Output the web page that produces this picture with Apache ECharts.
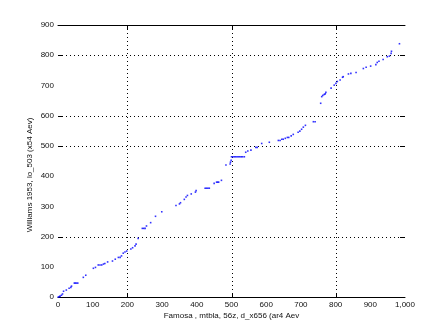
<!DOCTYPE html>
<html>
<head>
<meta charset="utf-8">
<script src="https://cdn.jsdelivr.net/npm/echarts@6/dist/echarts.min.js"></script>
<style>html,body{margin:0;padding:0;background:#fff;}#c{width:447px;height:335px;}</style>
</head>
<body>
<div id="c"></div>
<script>
var xTitle = "Famosa , mtbla, 56z, d_x656 (ar4 Aev";
var yTitle = "Williams 1953, lo_503 (x54 Aev)";
var xTicks = [0,100,200,300,400,500,600,700,800,900,1000];
var yTicks = [0,100,200,300,400,500,600,700,800,900];
var gridX = [200,500,800];
var gridY = [200,500,600,800];
var xVals = [1,4,6,10,13,16,24,32,37,39,47,50,53,57,73,80,102,108,116,121,126,131,135,143,157,165,174,179,183,188,193,198,210,215,222,225,231,243,247,251,255,267,281,299,340,350,353,364,369,373,384,396,398,424,428,432,436,450,457,460,463,471,484,496,497,499,500,504,508,512,516,520,524,528,532,537,541,547,556,570,574,587,609,635,640,645,649,655,661,665,672,678,692,697,702,707,713,736,741,757,760,763,767,770,772,787,796,801,805,813,820,822,837,844,859,880,888,901,916,920,925,937,949,955,960,961,984];
var yVals = [0,1,3,6,10,19,23,29,32,36,46,46,46,46,65,72,95,98,106,106,106,109,111,116,119,125,131,131,136,145,149,152,159,163,169,175,194,227,227,227,235,246,267,282,303,308,312,323,331,336,341,347,352,360,360,360,360,376,380,380,380,386,437,440,446,452,464,464,464,464,464,464,464,464,464,464,479,483,486,495,495,508,512,518,518,522,522,525,528,528,533,538,545,549,555,562,568,580,580,641,663,667,670,672,677,691,701,707,713,718,727,729,738,740,743,756,760,764,769,776,780,786,795,797,806,813,838];

var pts = xVals.map(function(x,i){return [x,yVals[i]];});
var chart = echarts.init(document.getElementById('c'), null, {renderer:'canvas'});
var font = 'Liberation Sans, Arial, sans-serif';

function snap(v){return Math.round(v)+0.5;}

function vGrid(params, api){
  var cs = params.coordSys;
  var x = snap(api.coord([api.value(0),0])[0]);
  var top = cs.y, bot = cs.y + cs.height;
  return {type:'group', children:[
    {type:'line', shape:{x1:x,y1:top,x2:x,y2:bot}, style:{stroke:'#000',lineWidth:1,lineDash:[1,3]}},
    {type:'line', shape:{x1:x,y1:top,x2:x,y2:top+4}, style:{stroke:'#000',lineWidth:1}},
    {type:'line', shape:{x1:x,y1:bot-4,x2:x,y2:bot}, style:{stroke:'#000',lineWidth:1}}
  ]};
}
function hGrid(params, api){
  var cs = params.coordSys;
  var y = snap(api.coord([0,api.value(1)])[1]);
  var l = cs.x, r = cs.x + cs.width;
  return {type:'group', children:[
    {type:'line', shape:{x1:l,y1:y,x2:r,y2:y}, style:{stroke:'#000',lineWidth:1,lineDash:[1,3]}},
    {type:'line', shape:{x1:l,y1:y,x2:l+5,y2:y}, style:{stroke:'#000',lineWidth:1}},
    {type:'line', shape:{x1:r-5,y1:y,x2:r,y2:y}, style:{stroke:'#000',lineWidth:1}}
  ]};
}

chart.setOption({
  animation:false,
  backgroundColor:'#fff',
  grid:{left:58,right:42,top:25,bottom:38,containLabel:false},
  xAxis:[{
    type:'value', min:0, max:1000, interval:100,
    axisLine:{show:true,lineStyle:{color:'#000',width:1}},
    axisTick:{show:false}, splitLine:{show:false},
    axisLabel:{fontSize:8,color:'#111',margin:4,fontFamily:font},
    name:xTitle, nameLocation:'middle', nameGap:15, nameMoveOverlap:false,
    nameTextStyle:{fontSize:8,color:'#111',fontFamily:font}
  },{
    type:'value', min:0, max:1000, position:'top',
    axisLine:{show:true,lineStyle:{color:'#000',width:1}},
    axisTick:{show:false}, splitLine:{show:false}, axisLabel:{show:false}
  }],
  yAxis:{
    type:'value', min:0, max:900, interval:100,
    axisLine:{show:false}, axisTick:{show:false}, splitLine:{show:false},
    axisLabel:{fontSize:8,color:'#111',margin:4,fontFamily:font},
    name:yTitle, nameLocation:'middle', nameGap:24, nameRotate:90, nameMoveOverlap:false,
    nameTextStyle:{fontSize:8,color:'#111',fontFamily:font,padding:[0,28,0,0]}
  },
  series:[
    {type:'custom', renderItem:vGrid, data:gridX.map(function(v){return [v,0];}), silent:true, z:1},
    {type:'custom', renderItem:hGrid, data:gridY.map(function(v){return [0,v];}), silent:true, z:1},
    {type:'scatter', data:pts, symbol:'rect', symbolSize:1.6, itemStyle:{color:'#0000ff'}, silent:true, z:5}
  ]
});
</script>
</body>
</html>
